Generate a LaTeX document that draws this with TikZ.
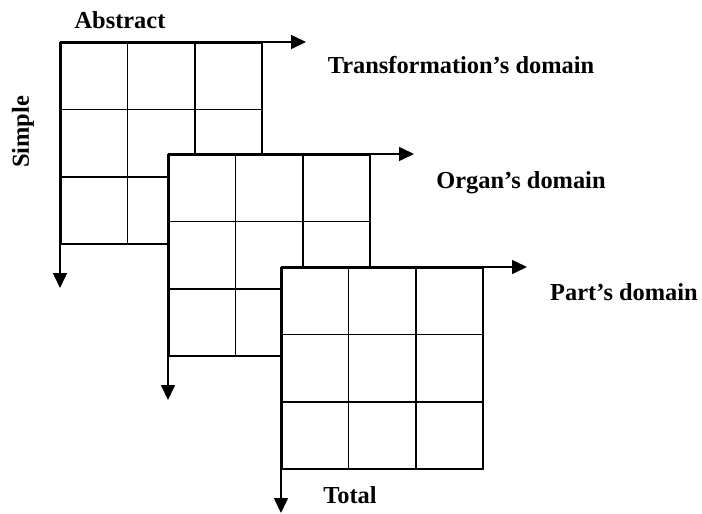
\documentclass[tikz,border=0pt]{standalone}
\usepackage{fontspec}
\setmainfont{Liberation Serif}
\usetikzlibrary{arrows.meta, calc}

\tikzset{
  cellgrid/.style={draw, fill=white, line width=0.8pt, anchor=north west, inner sep=0pt,
    minimum width=100.5pt, minimum height=100.5pt},
  gridline/.style={line width=0.8pt},
  axis/.style={line width=0.8pt, -{Triangle[length=7.5pt, width=7pt]}},
  caption/.style={font=\fontsize{12.2}{14}\selectfont\bfseries, anchor=base, inner sep=0pt},
}

\begin{document}
\begin{tikzpicture}[x=0.5pt, y=-0.5pt]
  \useasboundingbox (0,0) rectangle (702,514);

  % three 3x3 grids, each one laid over the previous
  \foreach \name/\gx/\gy in {trans/60/42, organ/168/154, part/281/267} {
    \node[cellgrid] (\name) at (\gx,\gy) {};
    \foreach \k in {1,2} {
      \draw[gridline] ($(\name.north west)!\k/3!(\name.north east)$) -- ($(\name.south west)!\k/3!(\name.south east)$);
      \draw[gridline] ($(\name.north west)!\k/3!(\name.south west)$) -- ($(\name.north east)!\k/3!(\name.south east)$);
    }
    % axes from the top left corner
    \coordinate (\name-right) at ($(\name.north west)+(246,0)$);
    \coordinate (\name-down) at ($(\name.north west)+(0,246)$);
    \draw[axis] (\name.north west) -- (\name-right);
    \draw[axis] (\name.north west) -- (\name-down);
  }

  % labels
  \node[caption] (abstract) at (120,28) {Abstract};
  \node[caption, anchor=center, rotate=90] (simple) at (23,132) {Simple};
  \node[caption] (transdom) at (461,73) {Transformation's domain};
  \node[caption] (organdom) at (521,188) {Organ's domain};
  \node[caption] (partdom) at (624,300) {Part's domain};
  \node[caption] (total) at (350,503) {Total};
\end{tikzpicture}
\end{document}
